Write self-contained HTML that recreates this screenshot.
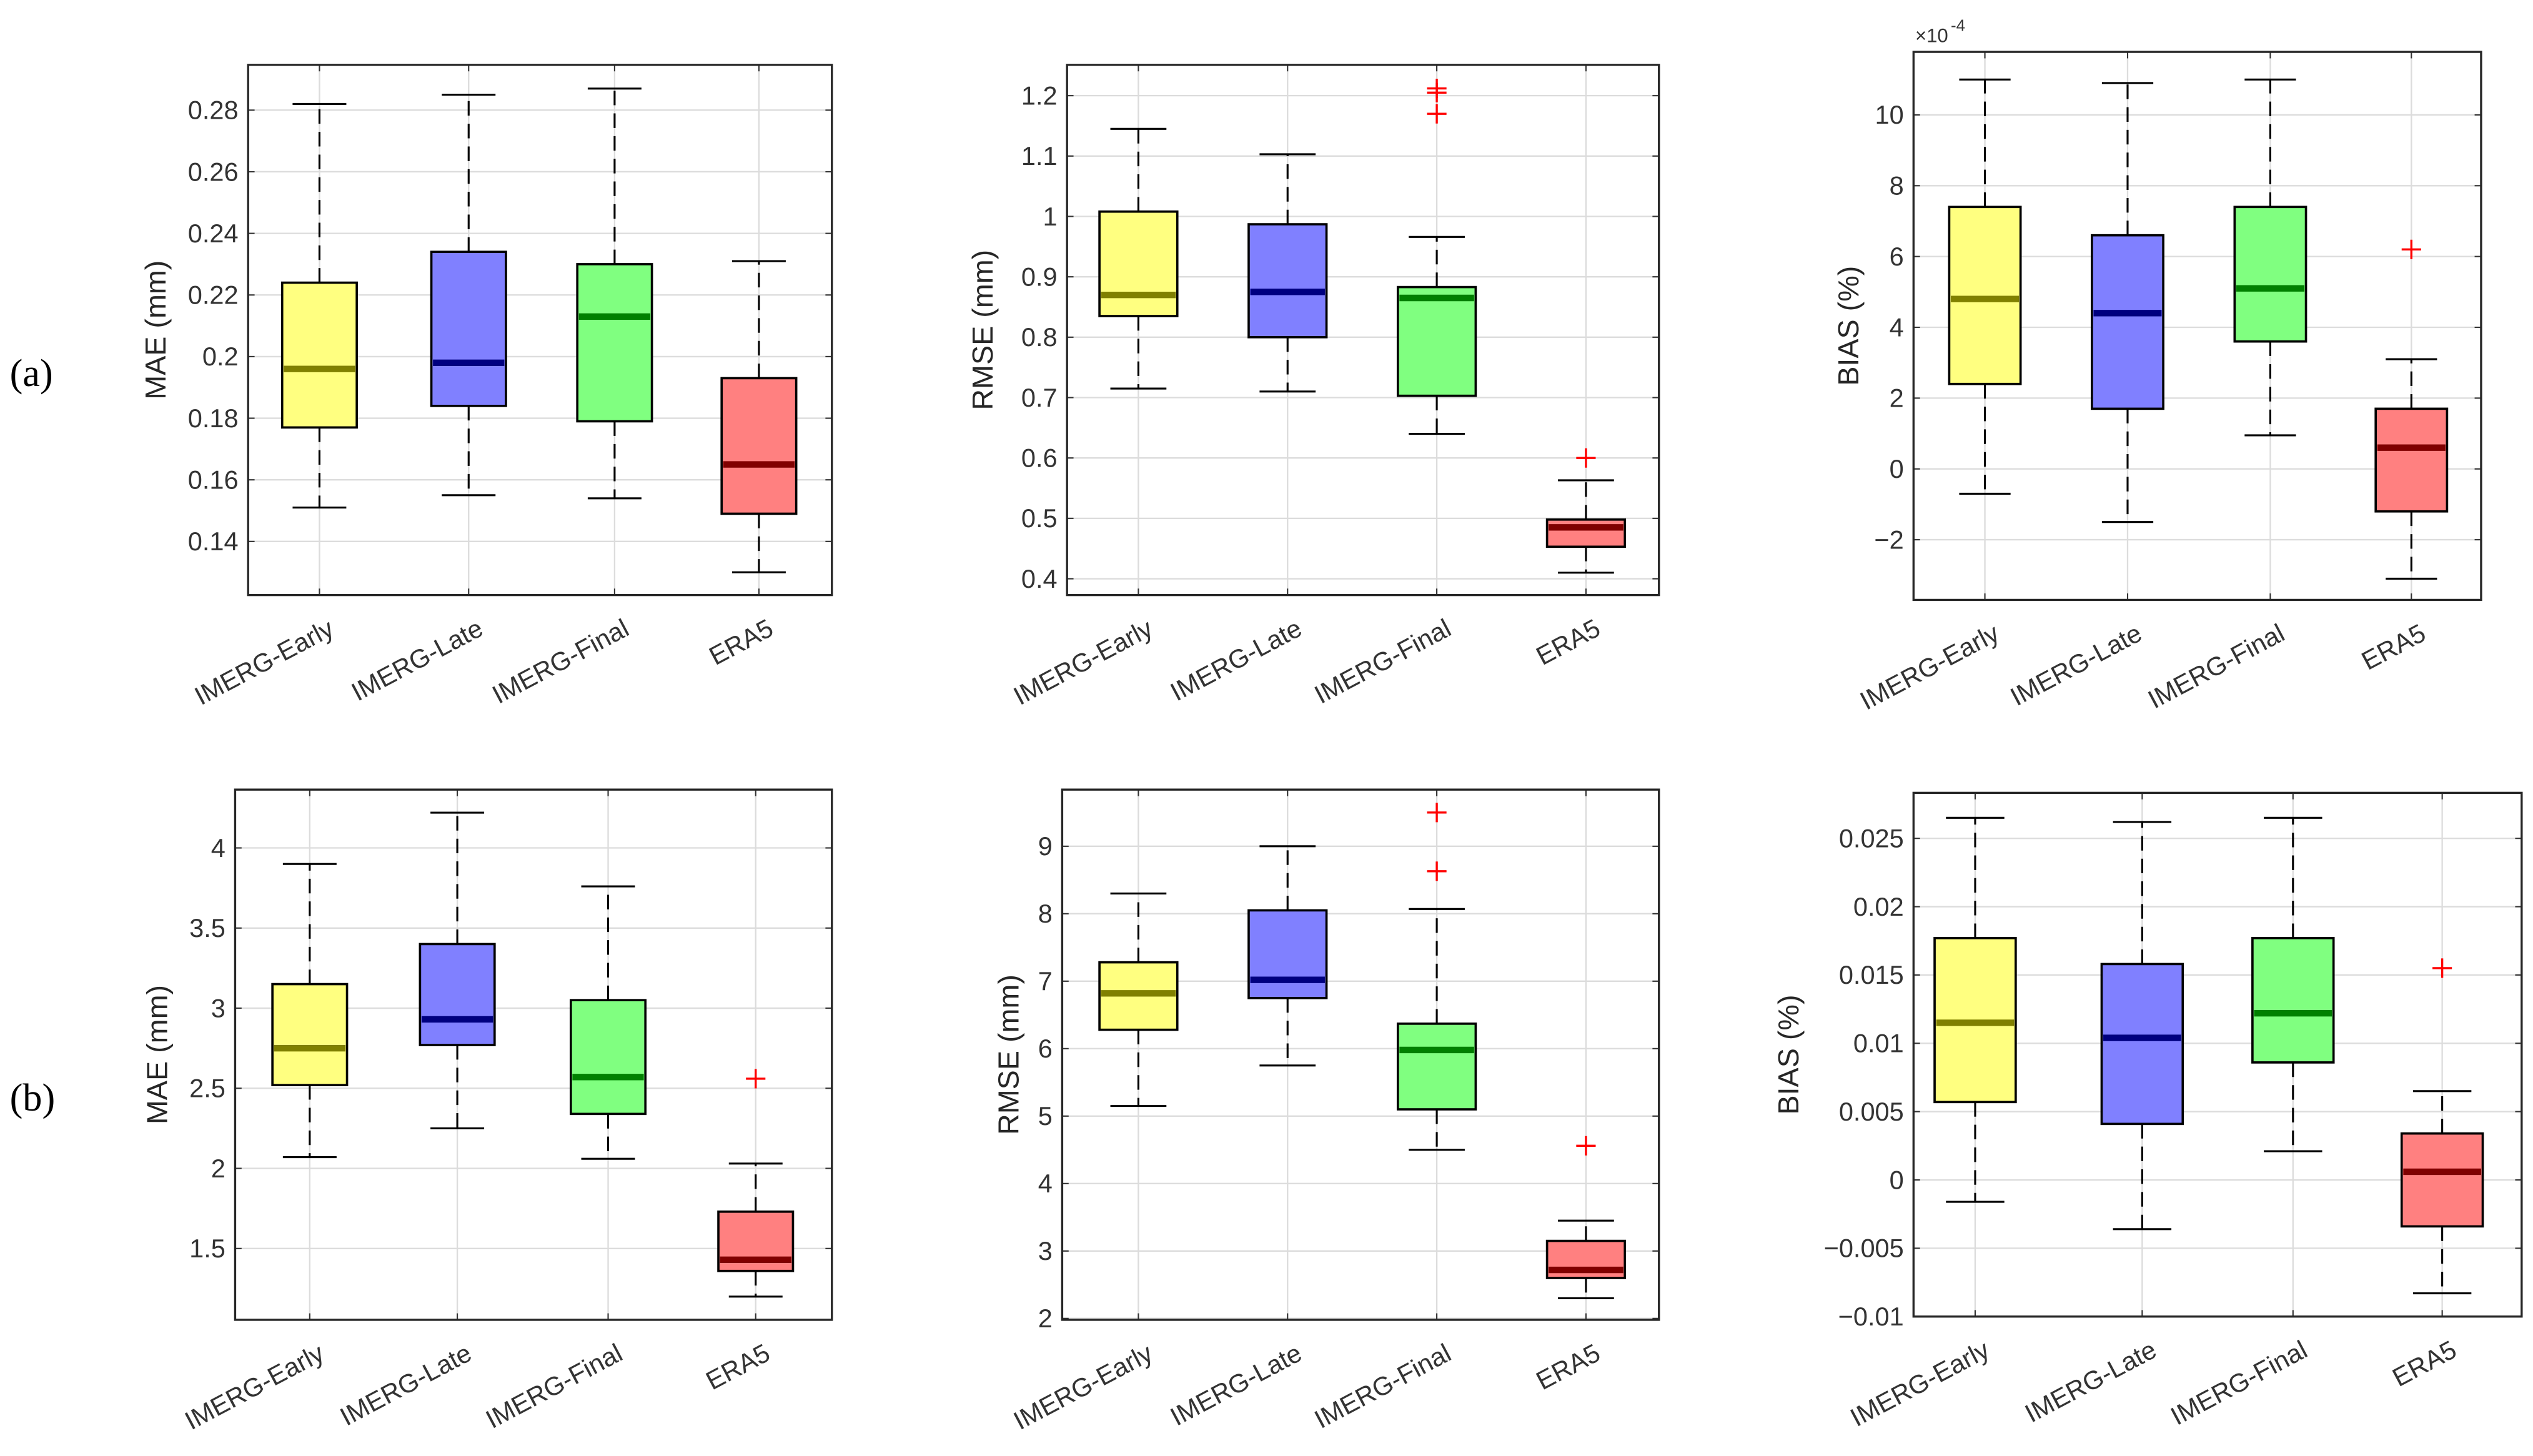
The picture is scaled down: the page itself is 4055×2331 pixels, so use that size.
<!DOCTYPE html>
<html><head><meta charset="utf-8"><style>
html,body{margin:0;padding:0;background:#fff;}
svg{display:block;}
text{font-family:"Liberation Sans",Arial,sans-serif;}
</style></head><body>
<svg id="fig" width="4055" height="2331" viewBox="0 0 1562 898" preserveAspectRatio="none" xmlns="http://www.w3.org/2000/svg">
<text x="6" y="238" font-size="24" fill="#000" style="font-family:'Liberation Serif',serif">(a)</text>
<text x="6" y="685" font-size="24" fill="#000" style="font-family:'Liberation Serif',serif">(b)</text>
</svg>
<script>
const categories = ["IMERG-Early","IMERG-Late","IMERG-Final","ERA5"];
const fills = ["#ffff80","#8080ff","#80ff80","#ff8080"];
const medColors = ["#808000","#000080","#008000","#800000"];

// panel a MAE
const aMaeWhiskLo = [0.151,0.155,0.154,0.130];
const aMaeQ1 = [0.177,0.184,0.179,0.149];
const aMaeMed = [0.196,0.198,0.213,0.165];
const aMaeQ3 = [0.224,0.234,0.230,0.193];
const aMaeWhiskHi = [0.282,0.285,0.287,0.231];
const aMaeOut = [[],[],[],[]];
const aMaeTicks = [0.14,0.16,0.18,0.2,0.22,0.24,0.26,0.28];
const aMaeTickLabels = ["0.14","0.16","0.18","0.2","0.22","0.24","0.26","0.28"];
// panel a RMSE
const aRmseWhiskLo = [0.715,0.71,0.64,0.41];
const aRmseQ1 = [0.835,0.80,0.703,0.453];
const aRmseMed = [0.870,0.875,0.865,0.485];
const aRmseQ3 = [1.008,0.987,0.883,0.498];
const aRmseWhiskHi = [1.145,1.103,0.966,0.563];
const aRmseOut = [[],[],[1.212,1.205,1.17],[0.60]];
const aRmseTicks = [0.4,0.5,0.6,0.7,0.8,0.9,1,1.1,1.2];
const aRmseTickLabels = ["0.4","0.5","0.6","0.7","0.8","0.9","1","1.1","1.2"];
// panel a BIAS (x1e-4)
const aBiasWhiskLo = [-0.7,-1.5,0.95,-3.1];
const aBiasQ1 = [2.4,1.7,3.6,-1.2];
const aBiasMed = [4.8,4.4,5.1,0.6];
const aBiasQ3 = [7.4,6.6,7.4,1.7];
const aBiasWhiskHi = [11.0,10.9,11.0,3.1];
const aBiasOut = [[],[],[],[6.2]];
const aBiasTicks = [-2,0,2,4,6,8,10];
const aBiasTickLabels = ["\u22122","0","2","4","6","8","10"];
// panel b MAE
const bMaeWhiskLo = [2.07,2.25,2.06,1.20];
const bMaeQ1 = [2.52,2.77,2.34,1.36];
const bMaeMed = [2.75,2.93,2.57,1.43];
const bMaeQ3 = [3.15,3.40,3.05,1.73];
const bMaeWhiskHi = [3.90,4.22,3.76,2.03];
const bMaeOut = [[],[],[],[2.56]];
const bMaeTicks = [1.5,2,2.5,3,3.5,4];
const bMaeTickLabels = ["1.5","2","2.5","3","3.5","4"];
// panel b RMSE
const bRmseWhiskLo = [5.15,5.75,4.5,2.3];
const bRmseQ1 = [6.28,6.75,5.1,2.6];
const bRmseMed = [6.82,7.02,5.98,2.72];
const bRmseQ3 = [7.28,8.05,6.37,3.15];
const bRmseWhiskHi = [8.3,9.0,8.07,3.45];
const bRmseOut = [[],[],[9.5,8.63],[4.56]];
const bRmseTicks = [2,3,4,5,6,7,8,9];
const bRmseTickLabels = ["2","3","4","5","6","7","8","9"];
// panel b BIAS
const bBiasWhiskLo = [-0.0016,-0.0036,0.0021,-0.0083];
const bBiasQ1 = [0.0057,0.0041,0.0086,-0.0034];
const bBiasMed = [0.0115,0.0104,0.0122,0.0006];
const bBiasQ3 = [0.0177,0.0158,0.0177,0.0034];
const bBiasWhiskHi = [0.0265,0.0262,0.0265,0.0065];
const bBiasOut = [[],[],[],[0.0155]];
const bBiasTicks = [-0.01,-0.005,0,0.005,0.01,0.015,0.02,0.025];
const bBiasTickLabels = ["\u22120.01","\u22120.005","0","0.005","0.01","0.015","0.02","0.025"];

const NS = "http://www.w3.org/2000/svg";
const svg = document.getElementById("fig");
function mk(tag, attrs, parent){
  const e = document.createElementNS(NS, tag);
  for (const k in attrs) e.setAttribute(k, attrs[k]);
  (parent||svg).appendChild(e);
  return e;
}

function panel(id, fr, ylim, catX, bw, wl, q1, md, q3, wh, outs, ticks, tickLabels, ylabel, ylabX){
  const g = mk("g", {});
  
  
  const y = v => fr.y1 - (v - ylim[0]) / (ylim[1] - ylim[0]) * (fr.y1 - fr.y0);
  ticks.forEach((t,i)=>{
    const yy = y(t);
    const gl = mk("line",{x1:fr.x0,x2:fr.x1,y1:yy,y2:yy,stroke:"#dcdcdc","stroke-width":0.9},g);
    
    
    mk("line",{x1:fr.x0,x2:fr.x0+4,y1:yy,y2:yy,stroke:"#333","stroke-width":0.8},g);
    mk("line",{x1:fr.x1,x2:fr.x1-4,y1:yy,y2:yy,stroke:"#333","stroke-width":0.8},g);
    const tl = mk("text",{x:fr.x0-6,y:yy+5.5,"text-anchor":"end","font-size":16,fill:"#333"},g);
    tl.textContent = tickLabels[i];
    
    
  });
  catX.forEach((cx,i)=>{
    const gl = mk("line",{x1:cx,x2:cx,y1:fr.y0,y2:fr.y1,stroke:"#dcdcdc","stroke-width":0.9},g);
    
    
    mk("line",{x1:cx,x2:cx,y1:fr.y1,y2:fr.y1-4,stroke:"#333","stroke-width":0.8},g);
    mk("line",{x1:cx,x2:cx,y1:fr.y0,y2:fr.y0+4,stroke:"#333","stroke-width":0.8},g);
    const xl = mk("text",{x:0,y:0,"text-anchor":"end","font-size":16,fill:"#333",transform:`translate(${cx+10},${fr.y1+24}) rotate(-28)`},g);
    xl.textContent = categories[i];
    
    
  });
  catX.forEach((cx,i)=>{
    const w = bw/2, cap = bw*0.36;
    const lo = mk("line",{x1:cx,x2:cx,y1:y(q1[i]),y2:y(wl[i]),stroke:"#000","stroke-width":1.2,"stroke-dasharray":"9,5"},g);
    
    
    const hi = mk("line",{x1:cx,x2:cx,y1:y(q3[i]),y2:y(wh[i]),stroke:"#000","stroke-width":1.2,"stroke-dasharray":"9,5"},g);
    
    
    mk("line",{x1:cx-cap,x2:cx+cap,y1:y(wl[i]),y2:y(wl[i]),stroke:"#000","stroke-width":1.2},g);
    mk("line",{x1:cx-cap,x2:cx+cap,y1:y(wh[i]),y2:y(wh[i]),stroke:"#000","stroke-width":1.2},g);
    const b = mk("rect",{x:cx-w,y:y(q3[i]),width:bw,height:y(q1[i])-y(q3[i]),fill:fills[i],stroke:"#000","stroke-width":1.4},g);
    
    
    const m = mk("line",{x1:cx-w+1,x2:cx+w-1,y1:y(md[i]),y2:y(md[i]),stroke:medColors[i],"stroke-width":4},g);
    
    
    outs[i].forEach(o=>{
      const oy = y(o);
      const p = mk("path",{d:`M${cx-6},${oy}H${cx+6}M${cx},${oy-6}V${oy+6}`,stroke:"#ff0000","stroke-width":1.3,fill:"none"},g);
      
      
    });
  });
  const f = mk("rect",{x:fr.x0,y:fr.y0,width:fr.x1-fr.x0,height:fr.y1-fr.y0,fill:"none",stroke:"#262626","stroke-width":1.3},g);
  
  
  const yl = mk("text",{x:0,y:0,"text-anchor":"middle","font-size":18,fill:"#262626",transform:`translate(${ylabX},${(fr.y0+fr.y1)/2}) rotate(-90)`},g);
  yl.textContent = ylabel;
  
  
  return g;
}

panel("a-mae",{x0:153,x1:513,y0:40,y1:367},[0.1226,0.2947],[197,289,379,468],46,
  aMaeWhiskLo,aMaeQ1,aMaeMed,aMaeQ3,aMaeWhiskHi,aMaeOut,aMaeTicks,aMaeTickLabels,"MAE (mm)",102);
panel("a-rmse",{x0:658,x1:1023,y0:40,y1:367},[0.373,1.251],[702,794,886,978],48,
  aRmseWhiskLo,aRmseQ1,aRmseMed,aRmseQ3,aRmseWhiskHi,aRmseOut,aRmseTicks,aRmseTickLabels,"RMSE (mm)",612);
panel("a-bias",{x0:1180,x1:1530,y0:32,y1:370},[-3.7,11.78],[1224,1312,1400,1487],44,
  aBiasWhiskLo,aBiasQ1,aBiasMed,aBiasQ3,aBiasWhiskHi,aBiasOut,aBiasTicks,aBiasTickLabels,"BIAS (%)",1146);
panel("b-mae",{x0:145,x1:513,y0:487,y1:814},[1.055,4.364],[191,282,375,466],46,
  bMaeWhiskLo,bMaeQ1,bMaeMed,bMaeQ3,bMaeWhiskHi,bMaeOut,bMaeTicks,bMaeTickLabels,"MAE (mm)",103);
panel("b-rmse",{x0:655,x1:1023,y0:487,y1:814},[1.98,9.84],[702,794,886,978],48,
  bRmseWhiskLo,bRmseQ1,bRmseMed,bRmseQ3,bRmseWhiskHi,bRmseOut,bRmseTicks,bRmseTickLabels,"RMSE (mm)",628);
panel("b-bias",{x0:1180,x1:1555,y0:489,y1:812},[-0.01,0.02833],[1218,1321,1414,1506],50,
  bBiasWhiskLo,bBiasQ1,bBiasMed,bBiasQ3,bBiasWhiskHi,bBiasOut,bBiasTicks,bBiasTickLabels,"BIAS (%)",1109);

const ex = mk("text",{x:1181,y:26,"font-size":12,fill:"#333"});
ex.textContent = "\u00d710";


const ex2 = mk("text",{x:1203,y:19,"font-size":10,fill:"#333"});
ex2.textContent = "-4";


</script>
</body></html>
